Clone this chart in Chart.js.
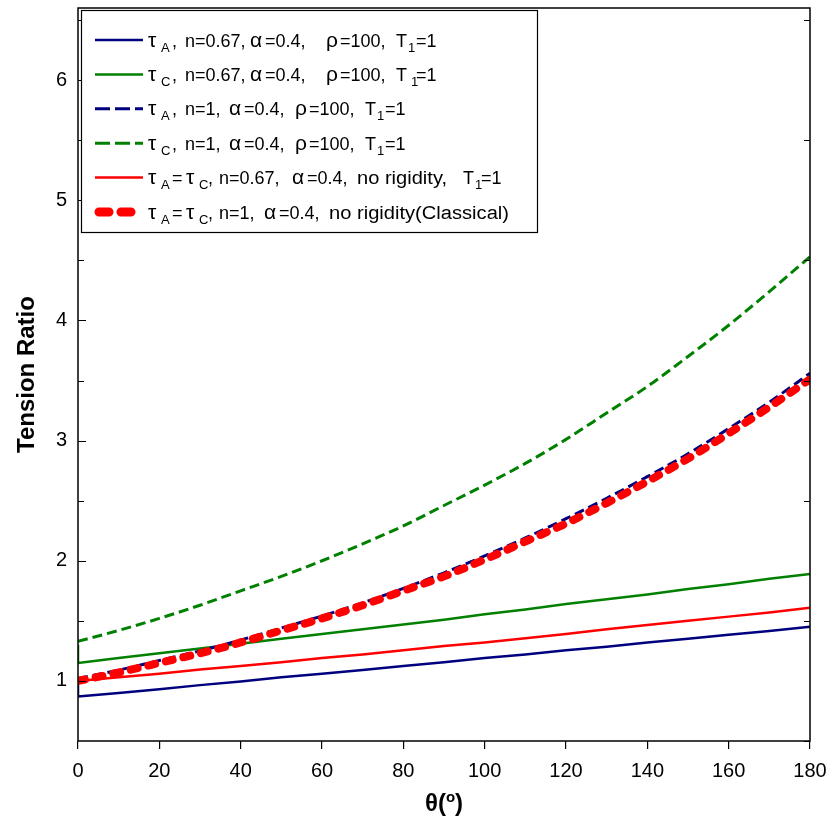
<!DOCTYPE html>
<html lang="en">
<head>
  <meta charset="UTF-8">
  <title>Tension Ratio vs θ</title>
  <script src="https://cdn.jsdelivr.net/npm/chart.js"></script>
  <style>
    body { margin: 0; background: #fff; }
    canvas { display: block; }
  </style>
</head>
<body>
  <canvas id="tensionChart" width="829" height="818"></canvas>

  <script>
    // wrap angle in degrees
    const theta = [0, 10, 20, 30, 40, 50, 60, 70, 80, 90, 100, 110, 120, 130, 140, 150, 160, 170, 180];

    // tension ratios read at each angle
    const tauA_n067 = [0.87, 0.90, 0.93, 0.965, 0.995, 1.03, 1.06, 1.09, 1.125, 1.155, 1.19, 1.22, 1.255, 1.285, 1.32, 1.35, 1.385, 1.415, 1.45];
    const tauC_n067 = [1.15, 1.19, 1.23, 1.27, 1.31, 1.35, 1.39, 1.43, 1.47, 1.51, 1.555, 1.595, 1.64, 1.68, 1.72, 1.765, 1.805, 1.85, 1.89];
    const tauA_n1 = [1.02, 1.09, 1.17, 1.25, 1.34, 1.44, 1.54, 1.65, 1.77, 1.90, 2.04, 2.19, 2.35, 2.52, 2.70, 2.89, 3.10, 3.32, 3.56];
    const tauC_n1 = [1.33, 1.42, 1.52, 1.63, 1.75, 1.87, 2.00, 2.14, 2.29, 2.46, 2.63, 2.81, 3.01, 3.23, 3.45, 3.70, 3.96, 4.24, 4.53];
    const noRigid_n067 = [1.00, 1.03, 1.06, 1.095, 1.125, 1.155, 1.19, 1.22, 1.255, 1.29, 1.32, 1.355, 1.39, 1.43, 1.465, 1.50, 1.535, 1.57, 1.61];
    const classical_n1 = [1.00, 1.07, 1.15, 1.23, 1.32, 1.42, 1.52, 1.63, 1.75, 1.87, 2.01, 2.16, 2.31, 2.48, 2.66, 2.85, 3.06, 3.28, 3.51];

    // value at θ=0 before the drop (τA, τC for n=0.67)
    const jumpAtZero = [1.00, 1.30];

    const xTicks = [0, 20, 40, 60, 80, 100, 120, 140, 160, 180];
    const yMajor = [1, 2, 3, 4, 5, 6];
    const yMinor = [0.5, 1.5, 2.5, 3.5, 4.5, 5.5, 6.5];

    // legend rows: [text, kind, x, width?]
    const legendRows = [
      [['τ', '', 148], ['A', 'sub', 161], [',', '', 172], ['n=0.67,', '', 185], ['α', '', 250], ['=0.4,', '', 265],
       ['ρ', '', 326], ['=100,', '', 340], ['T', '', 396], ['1', 'sub', 408], ['=1', '', 416]],
      [['τ', '', 148], ['C', 'sub', 161], [',', '', 172], ['n=0.67,', '', 185], ['α', '', 250], ['=0.4,', '', 265],
       ['ρ', '', 326], ['=100,', '', 340], ['T', '', 396], ['1', 'sub', 411], ['=1', '', 416]],
      [['τ', '', 148], ['A', 'sub', 161], [',', '', 172], ['n=1,', '', 185], ['α', '', 229], ['=0.4,', '', 244],
       ['ρ', '', 295], ['=100,', '', 309], ['T', '', 365], ['1', 'sub', 377], ['=1', '', 385]],
      [['τ', '', 148], ['C', 'sub', 161], [',', '', 172], ['n=1,', '', 185], ['α', '', 229], ['=0.4,', '', 244],
       ['ρ', '', 295], ['=100,', '', 309], ['T', '', 365], ['1', 'sub', 377], ['=1', '', 385]],
      [['τ', '', 148], ['A', 'sub', 161], ['=', '', 172], ['τ', '', 186], ['C', 'sub', 199], [',', '', 208],
       ['n=0.67,', '', 219], ['α', '', 292], ['=0.4,', '', 307], ['no rigidity,', '', 357, 90],
       ['T', '', 463], ['1', 'sub', 475], ['=1', '', 481]],
      [['τ', '', 148], ['A', 'sub', 161], ['=', '', 172], ['τ', '', 186], ['C', 'sub', 199], [',', '', 208],
       ['n=1,', '', 219], ['α', '', 264], ['=0.4,', '', 279], ['no rigidity(Classical)', '', 329, 180]]
    ];

    const FONT = '"Liberation Sans", Arial, Helvetica, sans-serif';
    const NAVY = '#00007f';
    const GREEN = '#008000';
    const RED = '#ff0000';

    const toPoints = (ys) => ys.map((y, i) => ({ x: theta[i], y: y }));

    const datasets = [
      { label: 'classical', data: toPoints(classical_n1), borderColor: RED, borderWidth: 8,
        borderDash: [7, 11], borderCapStyle: 'round', cubicInterpolationMode: 'monotone', order: 0 },
      { label: 'tauA n1', data: toPoints(tauA_n1), borderColor: NAVY, borderWidth: 3,
        borderDash: [10, 5], cubicInterpolationMode: 'monotone', order: 1 },
      { label: 'tauC n1', data: toPoints(tauC_n1), borderColor: GREEN, borderWidth: 3,
        borderDash: [10, 5], cubicInterpolationMode: 'monotone', order: 2 },
      { label: 'no rigidity n067', data: toPoints(noRigid_n067), borderColor: RED, borderWidth: 2.5,
        tension: 0, order: 3 },
      { label: 'tauC n067', data: [{ x: 0, y: jumpAtZero[1] }].concat(toPoints(tauC_n067)),
        borderColor: GREEN, borderWidth: 2.5, tension: 0, order: 4 },
      { label: 'tauA n067', data: [{ x: 0, y: jumpAtZero[0] }].concat(toPoints(tauA_n067)),
        borderColor: NAVY, borderWidth: 2.5, tension: 0, order: 5 }
    ];

    // legend sample styles, in row order
    const legendStyles = [
      { color: NAVY, width: 2.5, dash: [] },
      { color: GREEN, width: 2.5, dash: [] },
      { color: NAVY, width: 3, dash: [15, 5] },
      { color: GREEN, width: 3, dash: [15, 5] },
      { color: RED, width: 2.5, dash: [] },
      { color: RED, width: 9, dash: [10, 12], cap: 'round' }
    ];

    function drawPiece(ctx, piece, baseline) {
      const [text, kind, x, w] = piece;
      const greek = /^[ταρ]$/.test(text);
      const size = kind === 'sub' ? 13 : greek ? 21 : 18;
      ctx.font = `${size}px ${FONT}`;
      const y = baseline + (kind === 'sub' ? 5 : 0);
      if (w) {
        const m = ctx.measureText(text).width;
        ctx.save();
        ctx.translate(x, y);
        ctx.scale(w / m, 1);
        ctx.fillText(text, 0, 0);
        ctx.restore();
      } else {
        ctx.fillText(text, x, y);
      }
    }

    // frame, inward y ticks, axis titles and the boxed legend
    const decorations = {
      id: 'decorations',
      afterDatasetsDraw(chart) {
        const { ctx, chartArea: a, scales: { y } } = chart;
        ctx.save();
        ctx.strokeStyle = '#000';
        ctx.lineWidth = 1.5;
        ctx.strokeRect(a.left, a.top, a.right - a.left, a.bottom - a.top);

        ctx.beginPath();
        yMajor.forEach(v => {
          const py = Math.round(y.getPixelForValue(v)) + 0.5;
          ctx.moveTo(a.left, py); ctx.lineTo(a.left + 8, py);
        });
        yMinor.forEach(v => {
          const py = Math.round(y.getPixelForValue(v)) + 0.5;
          if (v > 0.6) { ctx.moveTo(a.left, py); ctx.lineTo(a.left + 6, py); }
          ctx.moveTo(a.right, py); ctx.lineTo(a.right - 6, py);
        });
        ctx.lineWidth = 1.2;
        ctx.stroke();

        // y title
        ctx.fillStyle = '#000';
        ctx.save();
        ctx.translate(27, (a.top + a.bottom) / 2);
        ctx.rotate(-Math.PI / 2);
        ctx.font = `bold 24px ${FONT}`;
        ctx.textAlign = 'center';
        ctx.textBaseline = 'middle';
        ctx.fillText('Tension Ratio', 0, 0);
        ctx.restore();

        // x title θ(°)
        const xt = [['θ(', 24, 0], ['o', 15, -9], [')', 24, 0]];
        let xw = 0;
        xt.forEach(([t, s]) => { ctx.font = `bold ${s}px ${FONT}`; xw += ctx.measureText(t).width; });
        let tx = (a.left + a.right) / 2 - xw / 2;
        ctx.textBaseline = 'alphabetic';
        xt.forEach(([t, s, dy]) => {
          ctx.font = `bold ${s}px ${FONT}`;
          ctx.fillText(t, tx, 811 + dy);
          tx += ctx.measureText(t).width;
        });

        // legend box
        ctx.fillStyle = '#fff';
        ctx.fillRect(81, 10, 456, 222);
        ctx.lineWidth = 1.2;
        ctx.strokeRect(81.5, 10.5, 456, 222);
        legendRows.forEach((row, i) => {
          const ly = 40 + i * 34.4;
          const st = legendStyles[i];
          ctx.beginPath();
          ctx.strokeStyle = st.color;
          ctx.lineWidth = st.width;
          ctx.setLineDash(st.dash);
          ctx.lineCap = st.cap || 'butt';
          ctx.moveTo(st.cap ? 99 : 95, ly);
          ctx.lineTo(st.cap ? 140 : 143, ly);
          ctx.stroke();
          ctx.setLineDash([]);
          ctx.lineCap = 'butt';
          ctx.fillStyle = '#000';
          row.forEach(p => drawPiece(ctx, p, ly + 6.5));
        });
        ctx.restore();
      }
    };

    const ctx = document.getElementById('tensionChart').getContext('2d');
    new Chart(ctx, {
      type: 'line',
      data: { datasets: datasets },
      plugins: [decorations],
      options: {
        responsive: false,
        animation: false,
        layout: { padding: { top: 8, right: 19, left: 0, bottom: 0 } },
        elements: { point: { radius: 0 } },
        plugins: { legend: { display: false }, tooltip: { enabled: false } },
        scales: {
          x: {
            type: 'linear', min: 0, max: 180,
            afterBuildTicks(s) { s.ticks = xTicks.map(v => ({ value: v })); },
            ticks: { color: '#000', font: { size: 20, family: FONT }, padding: 10, maxRotation: 0 },
            grid: { drawOnChartArea: false, drawTicks: true, tickLength: 8, color: '#000', lineWidth: 1.2 },
            border: { display: false },
            afterFit(s) { s.height = 77; s.paddingLeft = 0; s.paddingRight = 0; }
          },
          y: {
            type: 'linear', min: 0.5, max: 6.6,
            afterBuildTicks(s) { s.ticks = yMajor.map(v => ({ value: v })); },
            ticks: { color: '#000', font: { size: 20, family: FONT }, padding: 11 },
            grid: { display: false, drawTicks: false },
            border: { display: false },
            afterFit(s) { s.width = 78; s.paddingTop = 0; s.paddingBottom = 0; }
          }
        }
      }
    });
  </script>
</body>
</html>
